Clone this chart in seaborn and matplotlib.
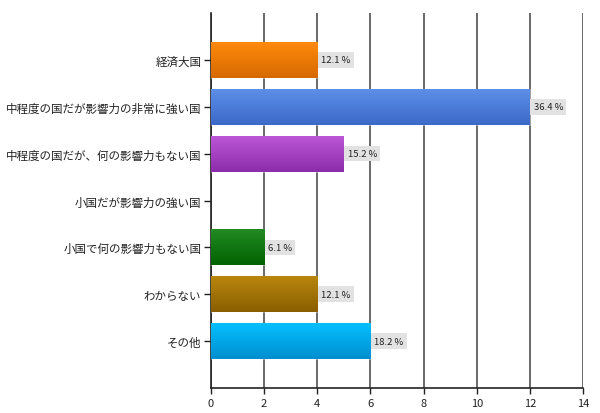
import numpy as np
import pandas as pd
import matplotlib
matplotlib.use("Agg")
import matplotlib.pyplot as plt
from matplotlib.colors import LinearSegmentedColormap
import seaborn as sns

categories = [
    "経済大国",
    "中程度の国だが影響力の非常に強い国",
    "中程度の国だが、何の影響力もない国",
    "小国だが影響力の強い国",
    "小国で何の影響力もない国",
    "わからない",
    "その他",
]
counts = [4, 12, 5, 0, 2, 4, 6]
percents = [12.1, 36.4, 15.2, 0.0, 6.1, 12.1, 18.2]
x_ticks = [0, 2, 4, 6, 8, 10, 12, 14]

# gradient (top, bottom) for each bar
gradients = [
    ("#ff8c0c", "#d66800"),
    ("#5d90e8", "#3b69c8"),
    ("#bd58d8", "#8c2caa"),
    ("#d0d0d0", "#a0a0a0"),
    ("#248c24", "#006200"),
    ("#ba880e", "#8a5e00"),
    ("#05c0ff", "#008fd0"),
]

sns.set_theme(style="white")
plt.rcParams["font.family"] = ["Noto Sans CJK JP", "DejaVu Sans"]

df = pd.DataFrame({"category": categories, "count": counts})

fig = plt.figure(figsize=(6.0, 4.14), dpi=100)
ax = fig.add_axes([211 / 600, 1 - 389 / 414, 372 / 600, 375 / 414])

sns.barplot(data=df, x="count", y="category", orient="h", ax=ax,
            width=0.77, color="#888888", saturation=1, zorder=3)

ax.set_xlim(0, 14)
ax.set_ylim(len(categories), -1)

# replace flat fills with vertical gradients
for patch, (c_top, c_bot) in zip(ax.patches, gradients):
    x0, y0 = patch.get_x(), patch.get_y()
    w, h = patch.get_width(), patch.get_height()
    if w <= 0:
        patch.set_visible(False)
        continue
    cmap = LinearSegmentedColormap.from_list("g", [c_top, c_bot])
    grad = np.linspace(0, 1, 64).reshape(-1, 1)
    im = ax.imshow(grad, cmap=cmap, aspect="auto",
                   extent=(x0, x0 + w, y0 + h, y0), origin="upper",
                   zorder=3, interpolation="bilinear")
    im.set_clip_path(patch)
    patch.set_facecolor("none")
    patch.set_edgecolor((1, 1, 1, 0.35))
    patch.set_linewidth(0.8)

ax.set_xlim(0, 14)
ax.set_ylim(len(categories), -1)

# value labels
for i, (c, p) in enumerate(zip(counts, percents)):
    if c <= 0:
        continue
    ax.text(c + 0.14, i, f"{p:.1f} %", va="center", ha="left",
            fontsize=6.8, color="#222222", zorder=5,
            bbox=dict(boxstyle="square,pad=0.35", facecolor="#e2e2e2",
                      edgecolor="none"))

ax.set_xticks(x_ticks)
ax.set_xticklabels([str(t) for t in x_ticks])
ax.xaxis.grid(True, color="#505050", linewidth=1.2, zorder=0)
ax.yaxis.grid(False)
ax.set_axisbelow(True)

for side in ("top", "right"):
    ax.spines[side].set_visible(False)
ax.spines["left"].set_color("#222222")
ax.spines["left"].set_linewidth(1.2)
ax.spines["bottom"].set_color("#222222")
ax.spines["bottom"].set_linewidth(1.2)

ax.tick_params(axis="x", bottom=True, length=4, width=1.0, color="#222222",
               labelsize=8, labelcolor="#222222", pad=3)
ax.tick_params(axis="y", left=True, length=5, width=1.0, color="#222222",
               labelsize=8.3, labelcolor="#222222", pad=2)
ax.set_xlabel("")
ax.set_ylabel("")

fig.savefig("out.png", dpi=100)
